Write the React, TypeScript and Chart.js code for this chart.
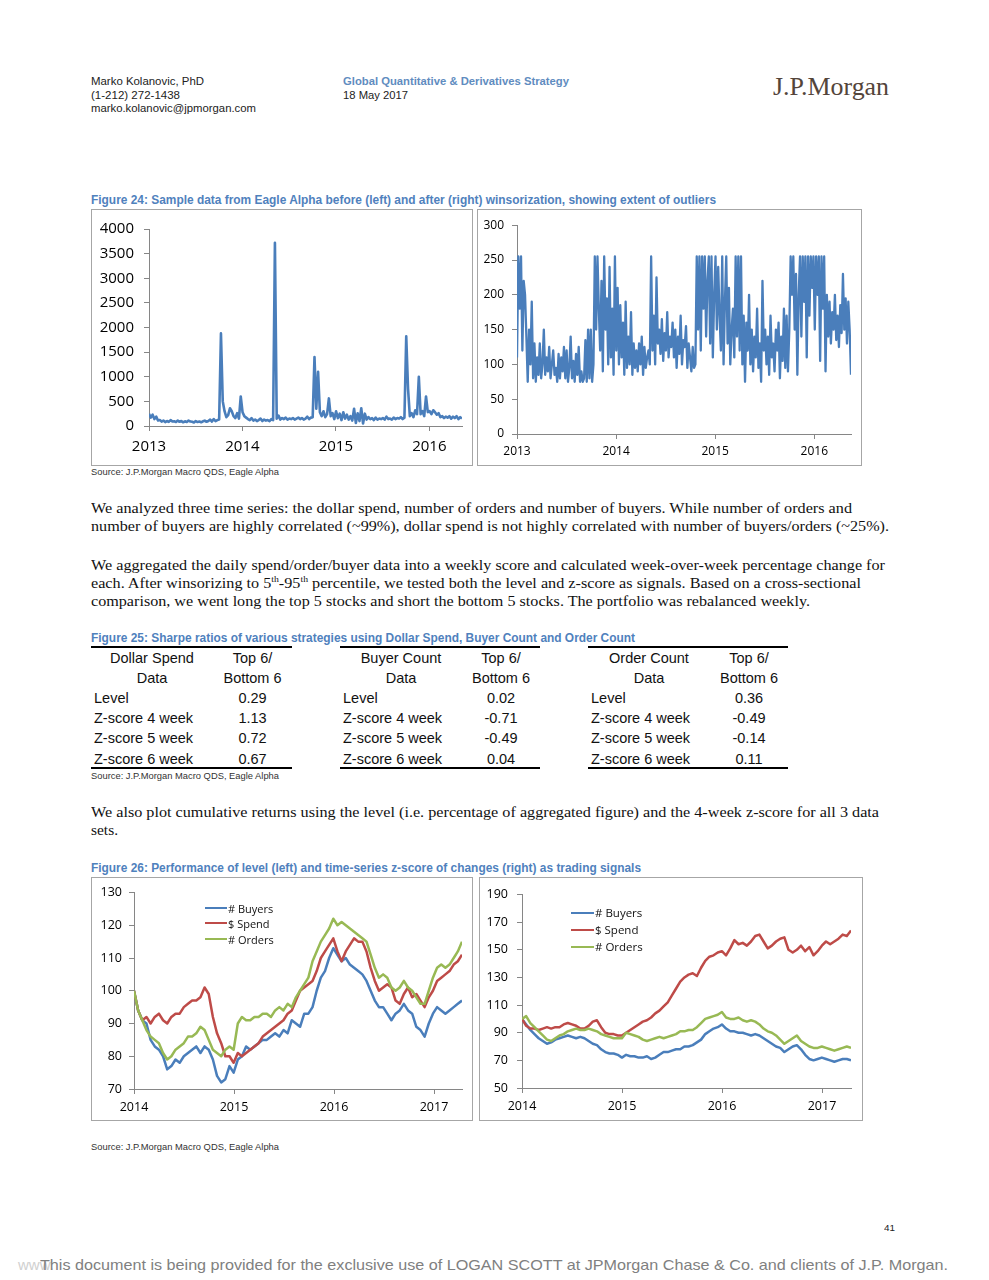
import React, { useEffect, useLayoutEffect, useRef } from "react";
import { Chart, registerables } from "chart.js";

Chart.register(...registerables);

// ---------------- DATA ----------------
// Figure 24 (left): raw daily data (sampled), 2013.0 -> 2016.35
const RAW_START = 2013.0;
const RAW_END = 2016.35;
const rawValues = [
  250, 170, 230, 140, 190, 110, 120, 90, 110, 80,
  100, 85, 120, 90, 95, 80, 110, 85, 100, 75,
  95, 80, 110, 90, 85, 70, 100, 80, 90, 75,
  95, 110, 85, 100, 130, 90, 140, 100, 120, 130,
  1880, 500, 300, 180, 220, 360, 300, 200, 160, 260,
  150, 600, 280, 200, 170, 140, 120, 160, 110, 130,
  100, 120, 150, 100, 130, 110, 120, 100, 140, 120,
  3720, 150, 210, 130, 160, 140, 170, 130, 150, 140,
  160, 130, 150, 170, 140, 160, 130, 150, 190, 140,
  170, 180, 1400, 350, 1100, 280, 200, 300, 180, 240,
  560, 200, 260, 140, 300, 160, 250, 120, 280, 150,
  230, 130, 200, 110, 350, 60, 260, 100, 360, 50,
  250, 130, 180, 140, 160, 120, 170, 130, 150, 140,
  160, 130, 190, 140, 150, 130, 170, 140, 160, 150,
  180, 140, 170, 1820, 760, 200, 260, 180, 320, 240,
  1000, 240, 300, 200, 600, 280, 300, 240, 320, 280,
  230, 260, 180, 200, 160, 190, 170, 200, 150, 190,
  160, 200, 140, 180, 150,
];

// Figure 24 (right): winsorized data (sampled), 2013.0 -> 2016.37
const WINS_START = 2013.0;
const WINS_END = 2016.37;
const winsValues = [
  110, 255, 180, 255, 120, 220, 200, 140,
  75, 150, 100, 190, 80, 130, 75, 110,
  85, 130, 80, 100, 150, 85, 110, 90,
  125, 80, 100, 120, 85, 95, 75, 115,
  80, 110, 90, 125, 80, 120, 75, 95,
  140, 80, 105, 75, 115, 85, 125, 75,
  90, 75, 80, 135, 75, 150, 80, 150,
  75, 100, 255, 150, 255, 180, 120, 220,
  90, 255, 150, 195, 100, 240, 110, 180, 85, 255,
  120, 210, 100, 185, 110, 160, 85, 190,
  95, 140, 100, 175, 85, 130, 95, 120, 90, 130,
  100, 140, 85, 125, 95, 110, 120, 100,
  255, 120, 170, 100, 225, 130, 150, 115,
  165, 105, 145, 120, 175, 110, 140, 125, 160, 110,
  150, 95, 140, 115, 170, 100, 135, 125,
  155, 95, 130, 110, 90, 125, 95, 100,
  255, 150, 255, 120, 255, 180, 255, 140,
  220, 255, 130, 255, 110, 200, 255, 150, 240, 170,
  120, 255, 100, 190, 255, 130, 210, 100, 150, 180,
  110, 255, 140, 255, 120, 255, 100, 170,
  75, 160, 120, 200, 100, 150, 90, 140,
  110, 180, 95, 130, 75, 220, 120, 150,
  100, 140, 85, 170, 110, 130, 90, 150,
  120, 160, 80, 140, 105, 180, 95, 170,
  90, 150, 255, 200,
  255, 150, 230, 85, 200, 255, 140, 255,
  190, 255, 110, 255, 170, 255, 210, 255,
  150, 255, 200, 255, 105, 255, 180, 255, 90, 200,
  140, 190, 130, 175, 150, 200, 135, 170, 125, 185,
  145, 230, 150, 195, 130, 190, 150, 85,
];

// Figure 26: weekly-ish performance series starting 2014.0
const PERF_START = 2014.0;
const LEVEL_END = 2017.28;
const ZSCORE_END = 2017.29;
const seriesNames = ["# Buyers", "$ Spend", "# Orders"];

const levelBuyers = [
  100, 94, 91, 90, 85, 83, 82, 80, 76, 77,
  79, 78, 80, 81, 82, 83, 81, 83, 82, 79,
  74, 72, 73, 77, 75, 79, 80, 83, 82, 83,
  84, 85, 85, 86, 87, 86, 88, 87, 91, 90,
  89, 93, 93, 95, 100, 104, 106, 110, 113, 111,
  109, 110, 108, 107, 106, 105, 103, 100, 97, 95,
  95, 93, 91, 93, 94, 96, 94, 93, 89, 88,
  86, 90, 93, 95, 94, 93, 94, 95, 96, 97,
];
const levelSpend = [
  100, 94, 91, 92, 90, 92, 93, 91, 90, 92,
  93, 93, 95, 96, 97, 97, 98, 101, 99, 92,
  87, 84, 80, 80, 78, 81, 80, 81, 82, 83,
  84, 86, 87, 88, 89, 90, 91, 93, 94, 97,
  100, 101, 102, 103, 106, 110, 112, 114, 116, 112,
  109, 112, 114, 116, 115, 115, 112, 107, 103, 100,
  101, 102, 101, 97, 96, 99, 101, 98, 99, 97,
  95, 98, 100, 103, 104, 105, 106, 108, 109, 111,
];
const levelOrders = [
  100, 94, 91, 88, 86, 85, 84, 81, 79, 80,
  82, 83, 84, 86, 86, 87, 89, 88, 85, 82,
  81, 80, 82, 83, 82, 90, 92, 91, 91, 92,
  92, 93, 93, 92, 94, 95, 94, 96, 95, 98,
  100, 102, 104, 109, 112, 115, 117, 119, 122, 120,
  121, 120, 119, 118, 117, 116, 115, 111, 107, 104,
  105, 104, 101, 100, 101, 103, 101, 100, 98, 96,
  96, 100, 104, 107, 108, 107, 108, 110, 112, 115,
];

const zBuyers = [
  100, 96, 92, 89, 86, 84, 82, 83, 85, 86,
  87, 88, 87, 86, 87, 86, 84, 82, 81, 78,
  76, 75, 75, 74, 72, 74, 73, 73, 72, 72,
  73, 71, 72, 74, 76, 76, 77, 78, 78, 80,
  80, 81, 83, 85, 89, 91, 93, 94, 96, 93,
  91, 91, 90, 90, 89, 88, 89, 88, 86, 84,
  82, 80, 79, 76, 78, 80, 81, 78, 74, 71,
  70, 71, 72, 71, 70, 69, 70, 71, 71, 70,
];
const zSpend = [
  100, 95, 93, 93, 92, 93, 94, 93, 94, 94,
  96, 97, 96, 95, 93, 93, 95, 98, 99, 94,
  90, 89, 89, 88, 88, 90, 92, 94, 96, 98,
  99, 101, 104, 106, 109, 112, 117, 122, 127, 130,
  132, 133, 131, 137, 142, 145, 146, 148, 149, 146,
  151, 157, 154, 155, 153, 156, 160, 161, 156, 151,
  153, 156, 158, 159, 150, 148, 150, 153, 149, 152,
  146, 149, 153, 156, 154, 156, 158, 161, 160, 164,
];
const zOrders = [
  100, 102, 97, 94, 91, 88, 85, 84, 86, 88,
  89, 91, 92, 93, 92, 92, 93, 92, 91, 89,
  88, 87, 86, 86, 86, 90, 89, 88, 87, 85,
  84, 85, 86, 87, 86, 87, 88, 89, 91, 91,
  92, 92, 94, 97, 100, 101, 102, 103, 105, 101,
  100, 100, 101, 99, 98, 99, 98, 96, 93, 91,
  90, 88, 85, 82, 84, 86, 88, 84, 82, 80,
  79, 79, 80, 79, 78, 77, 78, 79, 80, 79,
];

// Figure 25 table
const tableRowLabels = ["Level", "Z-score 4 week", "Z-score 5 week", "Z-score 6 week"];
const tableColumnHeader = ["Top 6/", "Bottom 6"];
const dollarSpendSharpe = ["0.29", "1.13", "0.72", "0.67"];
const buyerCountSharpe = ["0.02", "-0.71", "-0.49", "0.04"];
const orderCountSharpe = ["0.36", "-0.49", "-0.14", "0.11"];

// ---------------- STYLE ----------------
const SANS = '"Liberation Sans", Arial, Helvetica, sans-serif';
const SERIF = '"Liberation Serif", "Times New Roman", serif';
const CHARTFONT = '"Open Sans", "Liberation Sans", sans-serif';
const BLUE = "#4a7ebb";
const RED = "#be4b48";
const GREEN = "#98b954";
const TITLE_BLUE = "#4f81bd";
const AXIS = "#868686";

function toPoints(values: number[], start: number, end: number) {
  const n = values.length;
  return values.map((v, i) => ({ x: start + (i * (end - start)) / (n - 1), y: v }));
}

function Txt(props: {
  x: number; y: number; w?: number; size: number; family?: string; weight?: number;
  color?: string; children: React.ReactNode;
}) {
  const { x, y, w, size, family = SANS, weight = 400, color = "#000", children } = props;
  const ref = useRef<HTMLDivElement>(null);
  useLayoutEffect(() => {
    const el = ref.current;
    if (!el || !w) return;
    el.style.transform = "none";
    const natural = el.getBoundingClientRect().width;
    if (natural > 0) el.style.transform = `scaleX(${w / natural})`;
  }, [w]);
  const lh = Math.round(size * 1.2);
  return (
    <div
      ref={ref}
      style={{
        position: "absolute", left: x, top: y - lh / 2, fontSize: size, lineHeight: `${lh}px`,
        fontFamily: family, fontWeight: weight, color, whiteSpace: "nowrap", transformOrigin: "left center",
      }}
    >
      {children}
    </div>
  );
}

type Series = { label: string; values: number[]; color: string; order: number };

function LineChart(props: {
  left: number; top: number; width: number; height: number;
  series: Series[]; xStart: number; xEnd: number;
  yMin: number; yMax: number; yStep: number;
  axisW: number; padRight: number; padTop: number; axisH: number;
  fontSize: number; xPad: number; yPad: number; lineWidth: number;
}) {
  const ref = useRef<HTMLCanvasElement>(null);
  const p = props;
  useEffect(() => {
    const font = { family: CHARTFONT, size: p.fontSize };
    const chart = new Chart(ref.current as HTMLCanvasElement, {
      type: "line",
      data: {
        datasets: p.series.map((s) => ({
          label: s.label,
          data: toPoints(s.values, p.xStart, p.xEnd),
          borderColor: s.color,
          backgroundColor: s.color,
          borderWidth: p.lineWidth,
          pointRadius: 0,
          tension: 0,
          fill: false,
          order: s.order,
          borderJoinStyle: "round" as const,
        })),
      },
      options: {
        animation: false,
        responsive: false,
        maintainAspectRatio: false,
        layout: { padding: { left: 0, right: p.padRight, top: p.padTop, bottom: 0 } },
        plugins: { legend: { display: false }, tooltip: { enabled: false }, title: { display: false } },
        scales: {
          x: {
            type: "linear",
            min: p.xStart,
            max: p.xEnd,
            afterFit: (s: any) => { s.height = p.axisH; },
            ticks: {
              stepSize: 1, autoSkip: false, maxRotation: 0, minRotation: 0, includeBounds: false,
              callback: (v: any) => (Number.isInteger(v) ? String(v) : ""),
              font, color: "#000", padding: p.xPad,
            },
            grid: { drawOnChartArea: false, drawTicks: true, tickLength: 5, color: AXIS },
            border: { display: true, color: AXIS, width: 1 },
          },
          y: {
            type: "linear",
            min: p.yMin,
            max: p.yMax,
            afterFit: (s: any) => { s.width = p.axisW; },
            ticks: { stepSize: p.yStep, callback: (v: any) => String(v), font, color: "#000", padding: p.yPad },
            grid: { drawOnChartArea: false, drawTicks: true, tickLength: 5, color: AXIS },
            border: { display: true, color: AXIS, width: 1 },
          },
        },
      },
    });
    return () => chart.destroy();
  }, []);
  return (
    <div
      style={{
        position: "absolute", left: p.left, top: p.top, width: p.width, height: p.height,
        border: "1px solid #a6a6a6", boxSizing: "border-box", background: "#fff",
      }}
    >
      <canvas ref={ref} width={p.width - 2} height={p.height - 2} style={{ display: "block" }} />
    </div>
  );
}

function Legend(props: { x: number; ys: number[]; items: { label: string; color: string }[]; lineW: number; size: number }) {
  return (
    <>
      {props.items.map((it, i) => (
        <React.Fragment key={it.label}>
          <div
            style={{
              position: "absolute", left: props.x, top: props.ys[i] - 1.25, width: props.lineW, height: 2.5,
              background: it.color,
            }}
          />
          <Txt x={props.x + props.lineW + 1} y={props.ys[i]} size={props.size} family={CHARTFONT} color="#111">
            {it.label}
          </Txt>
        </React.Fragment>
      ))}
    </>
  );
}

function Cell(props: { x: number; w: number; y: number; align: "left" | "center"; children: React.ReactNode }) {
  const size = 14.5;
  const lh = 18;
  return (
    <div
      style={{
        position: "absolute", left: props.x, width: props.w, top: props.y - lh / 2, height: lh,
        lineHeight: `${lh}px`, fontSize: size, fontFamily: SANS, color: "#111", textAlign: props.align,
        whiteSpace: "nowrap",
      }}
    >
      {props.children}
    </div>
  );
}

function SharpeTable(props: { left: number; split: number; right: number; head: string[]; values: string[] }) {
  const { left, split, right } = props;
  const rowYs = [698, 718, 738, 759];
  return (
    <>
      <div style={{ position: "absolute", left, top: 646, width: right - left, height: 2, background: "#000" }} />
      <Cell x={left} w={split - left} y={658} align="center">{props.head[0]}</Cell>
      <Cell x={left} w={split - left} y={678} align="center">{props.head[1]}</Cell>
      <Cell x={split} w={right - split} y={658} align="center">{tableColumnHeader[0]}</Cell>
      <Cell x={split} w={right - split} y={678} align="center">{tableColumnHeader[1]}</Cell>
      {tableRowLabels.map((lab, i) => (
        <React.Fragment key={lab}>
          <Cell x={left + 3} w={split - left} y={rowYs[i]} align="left">{lab}</Cell>
          <Cell x={split} w={right - split} y={rowYs[i]} align="center">{props.values[i]}</Cell>
        </React.Fragment>
      ))}
      <div style={{ position: "absolute", left, top: 767, width: right - left, height: 1.5, background: "#000" }} />
    </>
  );
}

export default function App() {
  const legendItems = [
    { label: seriesNames[0], color: BLUE },
    { label: seriesNames[1], color: RED },
    { label: seriesNames[2], color: GREEN },
  ];
  const levelSeries: Series[] = [
    { label: seriesNames[0], values: levelBuyers, color: BLUE, order: 3 },
    { label: seriesNames[1], values: levelSpend, color: RED, order: 2 },
    { label: seriesNames[2], values: levelOrders, color: GREEN, order: 1 },
  ];
  const zSeries: Series[] = [
    { label: seriesNames[0], values: zBuyers, color: BLUE, order: 3 },
    { label: seriesNames[1], values: zSpend, color: RED, order: 2 },
    { label: seriesNames[2], values: zOrders, color: GREEN, order: 1 },
  ];
  const srcText = "Source: J.P.Morgan Macro QDS, Eagle Alpha";
  return (
    <div style={{ position: "absolute", left: 0, top: 0, width: 989, height: 1280, background: "#fff", overflow: "hidden" }}>
      {/* Header */}
      <Txt x={91} y={81} w={113} size={10.5} color="#222">Marko Kolanovic, PhD</Txt>
      <Txt x={91} y={95} w={89} size={10.5} color="#222">(1-212) 272-1438</Txt>
      <Txt x={91} y={108} w={165} size={10.5} color="#222">marko.kolanovic@jpmorgan.com</Txt>
      <Txt x={343} y={81} w={226} size={10.5} weight={700} color="#5f8cc0">Global Quantitative &amp; Derivatives Strategy</Txt>
      <Txt x={343} y={95} w={65} size={10.5} color="#222">18 May 2017</Txt>
      <Txt x={773} y={87} w={116} size={25} family={SERIF} color="#54453a">J.P.Morgan</Txt>

      {/* Figure 24 */}
      <Txt x={91} y={200} w={625} size={12} weight={700} color={TITLE_BLUE}>
        Figure 24: Sample data from Eagle Alpha before (left) and after (right) winsorization, showing extent of outliers
      </Txt>
      <LineChart
        left={91} top={209} width={382} height={257}
        series={[{ label: "Raw", values: rawValues, color: BLUE, order: 1 }]}
        xStart={RAW_START} xEnd={RAW_END} yMin={0} yMax={4000} yStep={500}
        axisW={57} padRight={10} padTop={16} axisH={39}
        fontSize={15} xPad={7} yPad={10} lineWidth={2.6}
      />
      <LineChart
        left={477} top={209} width={385} height={257}
        series={[{ label: "Winsorized", values: winsValues, color: BLUE, order: 1 }]}
        xStart={WINS_START} xEnd={WINS_END} yMin={0} yMax={300} yStep={50}
        axisW={39} padRight={10} padTop={12} axisH={31}
        fontSize={12} xPad={5} yPad={8} lineWidth={2.3}
      />
      <Txt x={91} y={472} w={188} size={9} color="#333">{srcText}</Txt>

      {/* Paragraphs */}
      <Txt x={91} y={508} w={761} size={15} family={SERIF} color="#111">
        We analyzed three time series: the dollar spend, number of orders and number of buyers. While number of orders and
      </Txt>
      <Txt x={91} y={526} w={798} size={15} family={SERIF} color="#111">
        number of buyers are highly correlated (~99%), dollar spend is not highly correlated with number of buyers/orders (~25%).
      </Txt>
      <Txt x={91} y={565} w={794} size={15} family={SERIF} color="#111">
        We aggregated the daily spend/order/buyer data into a weekly score and calculated week-over-week percentage change for
      </Txt>
      <Txt x={91} y={583} w={770} size={15} family={SERIF} color="#111">
        each. After winsorizing to 5<sup style={{ fontSize: 9, lineHeight: 0 }}>th</sup>-95<sup style={{ fontSize: 9, lineHeight: 0 }}>th</sup> percentile, we tested both the level and z-score as signals. Based on a cross-sectional
      </Txt>
      <Txt x={91} y={601} w={719} size={15} family={SERIF} color="#111">
        comparison, we went long the top 5 stocks and short the bottom 5 stocks. The portfolio was rebalanced weekly.
      </Txt>

      {/* Figure 25 */}
      <Txt x={91} y={638} w={544} size={12} weight={700} color={TITLE_BLUE}>
        Figure 25: Sharpe ratios of various strategies using Dollar Spend, Buyer Count and Order Count
      </Txt>
      <SharpeTable left={91} split={213} right={292} head={["Dollar Spend", "Data"]} values={dollarSpendSharpe} />
      <SharpeTable left={340} split={462} right={540} head={["Buyer Count", "Data"]} values={buyerCountSharpe} />
      <SharpeTable left={588} split={710} right={788} head={["Order Count", "Data"]} values={orderCountSharpe} />
      <Txt x={91} y={776} w={188} size={9} color="#333">{srcText}</Txt>

      <Txt x={91} y={812} w={788} size={15} family={SERIF} color="#111">
        We also plot cumulative returns using the level (i.e. percentage of aggregated figure) and the 4-week z-score for all 3 data
      </Txt>
      <Txt x={91} y={830} w={27} size={15} family={SERIF} color="#111">sets.</Txt>

      {/* Figure 26 */}
      <Txt x={91} y={868} w={550} size={12} weight={700} color={TITLE_BLUE}>
        Figure 26: Performance of level (left) and time-series z-score of changes (right) as trading signals
      </Txt>
      <LineChart
        left={91} top={877} width={382} height={244}
        series={levelSeries}
        xStart={PERF_START} xEnd={LEVEL_END} yMin={70} yMax={130} yStep={10}
        axisW={42} padRight={10} padTop={12} axisH={31}
        fontSize={12.5} xPad={6} yPad={7} lineWidth={2.5}
      />
      <LineChart
        left={479} top={877} width={384} height={244}
        series={zSeries}
        xStart={PERF_START} xEnd={ZSCORE_END} yMin={50} yMax={190} yStep={20}
        axisW={42} padRight={11} padTop={12} axisH={32}
        fontSize={12.5} xPad={6} yPad={9} lineWidth={2.5}
      />
      <Legend x={205} ys={[908, 923, 939]} items={legendItems} lineW={22} size={11} />
      <Legend x={571} ys={[913, 930, 947]} items={legendItems} lineW={23} size={11.5} />
      <Txt x={91} y={1147} w={188} size={9} color="#333">{srcText}</Txt>

      {/* Footer */}
      <Txt x={884} y={1227} w={11} size={9.5} color="#222">41</Txt>
      <Txt x={18} y={1265} size={15} color="#d0d0d0">www.</Txt>
      <Txt x={40} y={1265} w={908} size={15} color="#808080">
        This document is being provided for the exclusive use of LOGAN SCOTT at JPMorgan Chase &amp; Co. and clients of J.P. Morgan.
      </Txt>
    </div>
  );
}
